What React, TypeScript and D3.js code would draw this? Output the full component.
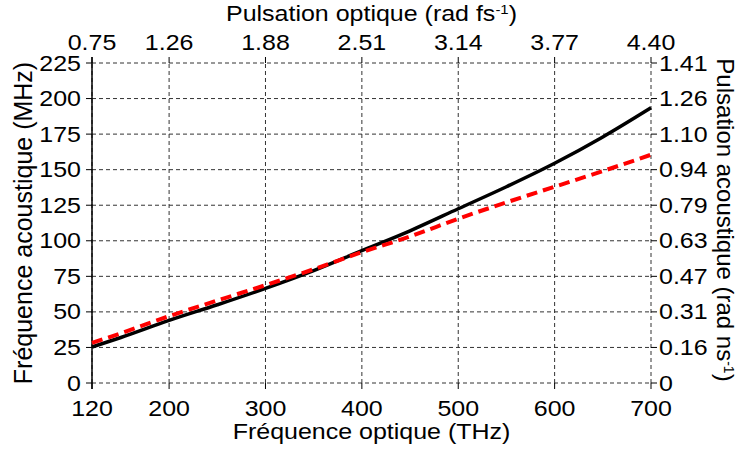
import React from "react";
import * as d3 from "d3";

const freqTHz = [120, 150, 200, 250, 300, 350, 400, 450, 500, 550, 600, 650, 700];
const acousticSolid = [25.3, 32, 44, 55, 66.5, 79, 93, 107, 122.5, 138, 154.5, 173, 193.5];
const acousticDashed = [28.2, 35, 47, 58, 68.8, 80, 92, 103, 115.5, 127, 138, 149, 160.5];
const bottomTicks = [120, 200, 300, 400, 500, 600, 700];
const leftTicks = [0, 25, 50, 75, 100, 125, 150, 175, 200, 225];

const W = 741, H = 450;
const M = { left: 92, right: 90, top: 63, bottom: 67 };
const FONT = "'Liberation Sans', Arial, sans-serif";
const FS = 25;
const SY = 0.86;

function HText({ x, y, anchor, children }: { x: number; y: number; anchor: string; children: React.ReactNode }) {
  return (
    <text transform={`translate(${x},${y}) scale(1,${SY})`} textAnchor={anchor} fontSize={FS}>
      {children}
    </text>
  );
}

export default function App() {
  const x = d3.scaleLinear().domain([120, 700]).range([M.left, W - M.right]);
  const y = d3.scaleLinear().domain([0, 225]).range([H - M.bottom, M.top]);
  const solid = d3.line<number>().x((_, i) => x(freqTHz[i])).y((d) => y(d)).curve(d3.curveMonotoneX)(acousticSolid);
  const dashed = d3.line<number>().x((_, i) => x(freqTHz[i])).y((d) => y(d)).curve(d3.curveMonotoneX)(acousticDashed);
  const x0 = M.left, x1 = W - M.right, y0 = H - M.bottom, y1 = M.top;
  const grid = "#333";
  return (
    <svg width={W} height={H} style={{ position: "absolute", left: 0, top: 0, background: "#fff" }} fontFamily={FONT}>
      <rect width={W} height={H} fill="#fff" />
      {leftTicks.map((t) => (
        <line key={"h" + t} x1={x0} x2={x1} y1={y(t)} y2={y(t)} stroke={grid} strokeWidth={1} strokeDasharray="4,3" />
      ))}
      {bottomTicks.map((t) => (
        <line key={"v" + t} x1={x(t)} x2={x(t)} y1={y0} y2={y1} stroke={grid} strokeWidth={1} strokeDasharray="4,3" />
      ))}
      <line x1={x0} x2={x0} y1={y0 + 6} y2={y1 - 6} stroke="#000" strokeWidth={1.5} />
      {leftTicks.map((t) => (
        <g key={"lt" + t}>
          <line x1={x0 - 6} x2={x0} y1={y(t)} y2={y(t)} stroke="#000" />
          <line x1={x1} x2={x1 + 6} y1={y(t)} y2={y(t)} stroke="#000" />
          <HText x={x0 - 11} y={y(t) + 7.5} anchor="end">{t}</HText>
          <HText x={x1 + 8} y={y(t) + 7.5} anchor="start">
            {t === 0 ? "0" : ((2 * Math.PI * t) / 1000).toFixed(2)}
          </HText>
        </g>
      ))}
      {bottomTicks.map((t) => (
        <g key={"bt" + t}>
          <line x1={x(t)} x2={x(t)} y1={y0} y2={y0 + 6} stroke="#000" />
          <line x1={x(t)} x2={x(t)} y1={y1 - 6} y2={y1} stroke="#000" />
          <HText x={x(t)} y={416} anchor="middle">{t}</HText>
          <HText x={x(t)} y={50} anchor="middle">{((2 * Math.PI * t) / 1000).toFixed(2)}</HText>
        </g>
      ))}
      <path d={solid || ""} fill="none" stroke="#000" strokeWidth={3.5} />
      <path d={dashed || ""} fill="none" stroke="#ff0000" strokeWidth={4} strokeDasharray="11,6" />
      <HText x={(x0 + x1) / 2} y={439} anchor="middle">Fréquence optique (THz)</HText>
      <HText x={(x0 + x1) / 2} y={21} anchor="middle">
        Pulsation optique (rad fs<tspan dy={-8} fontSize={15}>-1</tspan><tspan dy={8}>)</tspan>
      </HText>
      <text transform={`translate(32,${(y0 + y1) / 2}) rotate(-90)`} textAnchor="middle" fontSize={FS}>
        Fréquence acoustique (MHz)
      </text>
      <text transform={`translate(717,220) rotate(90)`} textAnchor="middle" fontSize={24}>
        Pulsation acoustique (rad ns<tspan dy={-7} fontSize={14}>-1</tspan><tspan dy={7}>)</tspan>
      </text>
    </svg>
  );
}
